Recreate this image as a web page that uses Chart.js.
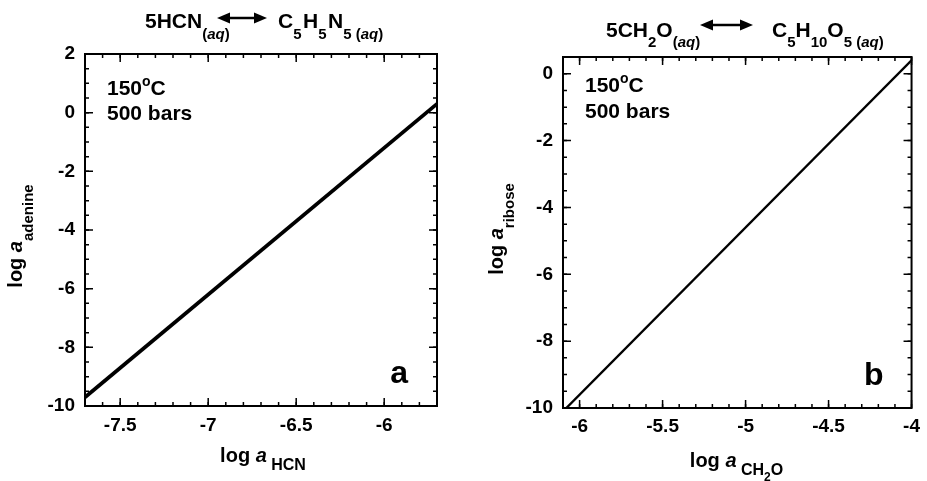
<!DOCTYPE html>
<html>
<head>
<meta charset="utf-8">
<script src="https://cdn.jsdelivr.net/npm/chart.js@4.4.1/dist/chart.umd.min.js"></script>
<style>
    html, body { margin: 0; padding: 0; background: #fff; }
    #wrap { position: relative; width: 927px; height: 481px; }
    #left { position: absolute; left: 0; top: 0; }
    #right { position: absolute; left: 463px; top: 0; }
</style>
</head>
<body>
<div id="wrap">
    <canvas id="left" width="463" height="481"></canvas>
    <canvas id="right" width="464" height="481"></canvas>
</div>
<script>
// panel a : 5HCN <-> adenine
const hcnLog = [-7.7, -5.7];
const adenineLog = [-9.7, 0.3];
const hcnTicks = [-7.5, -7, -6.5, -6];
const adenineTicks = [-10, -8, -6, -4, -2, 0, 2];

// panel b : 5CH2O <-> ribose
const ch2oLog = [-6.08, -4];
const riboseLog = [-10, 0.4];
const ch2oTicks = [-6, -5.5, -5, -4.5, -4];
const riboseTicks = [-10, -8, -6, -4, -2, 0];

const FONT = '"Liberation Sans", Arial, Helvetica, sans-serif';

const fontOf = p => `${p[3] ? 'italic ' : ''}bold ${p[1]}px ${FONT}`;

// draw a row of text pieces [text, size, dy, italic, extraGap]
function drawRuns(ctx, x, y, parts, align) {
    let w = 0;
    parts.forEach(p => { ctx.font = fontOf(p); w += ctx.measureText(p[0]).width + (p[4] || 0); });
    let cx = align === 'center' ? x - w / 2 : x;
    parts.forEach(p => {
        ctx.font = fontOf(p);
        ctx.fillText(p[0], cx, y + (p[2] || 0));
        cx += ctx.measureText(p[0]).width + (p[4] || 0);
    });
}

function drawArrow(ctx, x1, x2, y) {
    const head = 13, half = 5.5;
    ctx.save();
    ctx.strokeStyle = '#000';
    ctx.fillStyle = '#000';
    ctx.lineWidth = 2.5;
    ctx.beginPath();
    ctx.moveTo(x1 + head - 1, y);
    ctx.lineTo(x2 - head + 1, y);
    ctx.stroke();
    ctx.beginPath();
    ctx.moveTo(x1, y); ctx.lineTo(x1 + head, y - half); ctx.lineTo(x1 + head, y + half);
    ctx.closePath(); ctx.fill();
    ctx.beginPath();
    ctx.moveTo(x2, y); ctx.lineTo(x2 - head, y - half); ctx.lineTo(x2 - head, y + half);
    ctx.closePath(); ctx.fill();
    ctx.restore();
}

function minorValues(min, max, step) {
    const out = [];
    for (let i = Math.ceil(min / step - 1e-9); i * step <= max + 1e-9; i++) {
        out.push(Math.round(i * step * 1000) / 1000);
    }
    return out;
}

//frame + inward ticks on all four sides
function framePlugin(cfg) {
    return {
        id: 'frame',
        afterDatasetsDraw(chart) {
            const {ctx, chartArea: a, scales: {x, y}} = chart;
            ctx.save();
            ctx.strokeStyle = '#000';
            ctx.lineWidth = 1.5;
            const xt = (vals, len) => vals.forEach(v => {
                const px = x.getPixelForValue(v);
                ctx.beginPath();
                ctx.moveTo(px, a.bottom); ctx.lineTo(px, a.bottom - len);
                ctx.moveTo(px, a.top); ctx.lineTo(px, a.top + len);
                ctx.stroke();
            });
            const yt = (vals, len) => vals.forEach(v => {
                const py = y.getPixelForValue(v);
                ctx.beginPath();
                ctx.moveTo(a.left, py); ctx.lineTo(a.left + len, py);
                ctx.moveTo(a.right, py); ctx.lineTo(a.right - len, py);
                ctx.stroke();
            });
            xt(minorValues(x.min, x.max, cfg.xMinor), 4);
            yt(minorValues(y.min, y.max, cfg.yMinor), 4);
            xt(cfg.xTicks, 8);
            yt(cfg.yTicks, 8);
            ctx.lineWidth = 2;
            ctx.strokeRect(a.left, a.top, a.right - a.left, a.bottom - a.top);
            ctx.restore();
        }
    };
}

function makeChart(id, cfg) {
    const tickFont = {family: FONT, size: 19, weight: 'bold'};
    return new Chart(document.getElementById(id), {
        type: 'scatter',
        data: {
            datasets: [{
                data: cfg.xs.map((v, i) => ({x: v, y: cfg.ys[i]})),
                showLine: true,
                borderColor: '#000',
                borderWidth: cfg.lineWidth,
                pointRadius: 0,
                fill: false,
            }]
        },
        options: {
            responsive: false,
            animation: false,
            layout: {padding: {top: cfg.area.top, right: cfg.area.right, left: 0, bottom: 0}},
            plugins: {legend: {display: false}, tooltip: {enabled: false}},
            scales: {
                x: {
                    type: 'linear',
                    min: cfg.xRange[0],
                    max: cfg.xRange[1],
                    grid: {display: false, drawTicks: false},
                    border: {display: false},
                    afterBuildTicks: s => { s.ticks = cfg.xTicks.map(v => ({value: v})); },
                    afterFit: s => { s.height = cfg.area.bottom; },
                    ticks: {color: '#000', font: tickFont, padding: cfg.xPad, maxRotation: 0, autoSkip: false, callback: v => String(v)}
                },
                y: {
                    type: 'linear',
                    min: cfg.yRange[0],
                    max: cfg.yRange[1],
                    grid: {display: false, drawTicks: false},
                    border: {display: false},
                    afterBuildTicks: s => { s.ticks = cfg.yTicks.map(v => ({value: v})); },
                    afterFit: s => { s.width = cfg.area.left; },
                    ticks: {color: '#000', font: tickFont, padding: 10, autoSkip: false, callback: v => String(v)}
                }
            }
        },
        plugins: [framePlugin(cfg), {
            id: 'texts',
            afterDraw: c => {
                const ctx = c.ctx;
                ctx.save();
                ctx.fillStyle = '#000';
                ctx.textAlign = 'left';
                ctx.textBaseline = 'alphabetic';
                cfg.texts(ctx, c.chartArea);
                ctx.restore();
            }
        }]
    });
}

makeChart('left', {
    xs: hcnLog, ys: adenineLog, lineWidth: 3.8,
    xRange: [-7.7, -5.7], yRange: [-10, 2],
    xTicks: hcnTicks, yTicks: adenineTicks, xMinor: 0.1, yMinor: 0.5,
    area: {left: 85, top: 54, right: 26, bottom: 75}, xPad: 8,
    texts: (ctx, a) => {
        //reaction
        drawRuns(ctx, 145, 28, [['5HCN', 21], ['(', 15, 11], ['aq', 15, 11, true], [')', 15, 11]]);
        drawArrow(ctx, 217, 267, 18);
        drawRuns(ctx, 278, 28, [['C', 21], ['5', 15, 11, false, 1.5], ['H', 21], ['5', 15, 11, false, 1.5], ['N', 21],
            ['5 (', 15, 11], ['aq', 15, 11, true], [')', 15, 11]]);
        //conditions
        drawRuns(ctx, a.left + 22, a.top + 41, [['150', 21], ['o', 14, -9], ['C', 21]]);
        drawRuns(ctx, a.left + 22, a.top + 66, [['500 bars', 21]]);
        ctx.font = `bold 32px ${FONT}`;
        ctx.textAlign = 'right';
        ctx.fillText('a', a.right - 29, a.bottom - 23);
        ctx.textAlign = 'left';
        //axis titles
        drawRuns(ctx, (a.left + a.right) / 2 + 2, 462, [['log ', 20], ['a', 20, 0, true], [' HCN', 16, 8]], 'center');
        ctx.save();
        ctx.translate(22, 236);
        ctx.rotate(-Math.PI / 2);
        drawRuns(ctx, 0, 0, [['log ', 20], ['a', 20, 0, true], ['adenine', 15, 11]], 'center');
        ctx.restore();
    }
});

makeChart('right', {
    xs: ch2oLog, ys: riboseLog, lineWidth: 2.4,
    xRange: [-6.1, -4], yRange: [-10, 0.5],
    xTicks: ch2oTicks, yTicks: riboseTicks, xMinor: 0.1, yMinor: 0.5,
    area: {left: 100, top: 57, right: 12, bottom: 73}, xPad: 7,
    texts: (ctx, a) => {
        drawRuns(ctx, 143, 37, [['5CH', 21], ['2', 15, 10], ['O', 21], ['(', 15, 10], ['aq', 15, 10, true], [')', 15, 10]]);
        drawArrow(ctx, 237, 290, 25);
        drawRuns(ctx, 309, 37, [['C', 21], ['5', 15, 10], ['H', 21], ['10', 15, 10], ['O', 21],
            ['5 (', 15, 10], ['aq', 15, 10, true], [')', 15, 10]]);
        drawRuns(ctx, a.left + 22, a.top + 35, [['150', 21], ['o', 14, -9], ['C', 21]]);
        drawRuns(ctx, a.left + 22, a.top + 61, [['500 bars', 21]]);
        ctx.font = `bold 32px ${FONT}`;
        ctx.textAlign = 'right';
        ctx.fillText('b', a.right - 28, a.bottom - 23);
        ctx.textAlign = 'left';
        drawRuns(ctx, 273.5, 467, [['log ', 20], ['a', 20, 0, true], [' CH', 16, 8], ['2', 12, 14], ['O', 16, 8]], 'center');
        ctx.save();
        ctx.translate(40, 229);
        ctx.rotate(-Math.PI / 2);
        drawRuns(ctx, 0, 0, [['log ', 20], ['a', 20, 0, true], ['ribose', 15, 11]], 'center');
        ctx.restore();
    }
});
</script>
</body>
</html>
